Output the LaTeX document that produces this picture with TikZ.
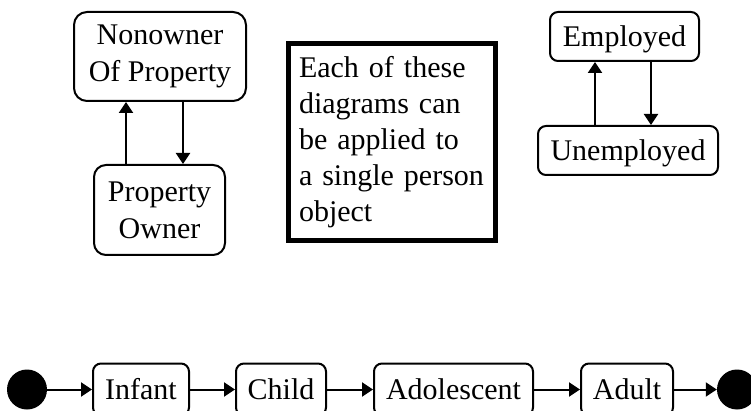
\documentclass[tikz,border=0pt]{standalone}
\usepackage{fontspec}
\setmainfont{Liberation Serif}
\usetikzlibrary{arrows.meta}

\begin{document}
\begin{tikzpicture}[x=1pt,y=-1pt,
  font=\fontsize{30}{37}\selectfont,
  stbox/.style={draw, line width=2pt, rounded corners=#1, inner sep=0pt, align=center},
  stbox/.default=8pt,
  st1/.style={stbox=8pt, text height=20.5pt, text depth=0pt},
  dot/.style={circle, fill=black, minimum size=40pt, inner sep=0pt},
  notebox/.style={draw, line width=5.5pt, inner sep=0pt, align=left,
    font=\fontsize{30}{36}\selectfont},
  arr/.style={line width=2pt, -{Triangle[length=11pt,width=14pt]}}
]
\useasboundingbox (0,0) rectangle (751,411);
\clip (0,0) rectangle (751,411);

% property ownership states
\node[stbox=13pt, minimum width=172pt, minimum height=89pt] (non) at (160,56.5) {Nonowner\\Of Property};
\node[stbox=12pt, minimum width=131pt, minimum height=90pt] (po) at (159.5,210) {Property\\Owner};
\draw[arr] ([xshift=-33.5pt]po.north) -- ([xshift=-33.5pt]po.north |- non.south);
\draw[arr] ([xshift=23pt]non.south) -- ([xshift=23pt]non.south |- po.north);

% note
\node[notebox, minimum width=207pt, minimum height=197pt, text width=186pt] (note) at (392,142)
  {Each of these\\diagrams can\\be applied to\\a single person\\object};

% employment states
\node[st1, minimum width=149pt, minimum height=49pt] (emp) at (624.5,36.5) {Employed};
\node[st1, minimum width=180pt, minimum height=49pt] (unemp) at (628,150.5) {Unemployed};
\draw[arr] ([xshift=-33pt]unemp.north) -- ([xshift=-33pt]unemp.north |- emp.south);
\draw[arr] ([xshift=26.5pt]emp.south) -- ([xshift=26.5pt]emp.south |- unemp.north);

% life stages
\node[dot] (start) at (27,389.5) {};
\node[st1, minimum width=96pt, minimum height=52pt] (infant) at (141,389.5) {Infant};
\node[st1, minimum width=90pt, minimum height=52pt] (child) at (281,389.5) {Child};
\node[st1, minimum width=159pt, minimum height=52pt] (adol) at (453.5,389.5) {Adolescent};
\node[st1, minimum width=92pt, minimum height=52pt] (adult) at (627,389.5) {Adult};
\node[dot] (end) at (737,389.5) {};
\draw[arr] (start) -- (infant);
\draw[arr] (infant) -- (child);
\draw[arr] (child) -- (adol);
\draw[arr] (adol) -- (adult);
\draw[arr] (adult) -- (end);
\end{tikzpicture}
\end{document}
